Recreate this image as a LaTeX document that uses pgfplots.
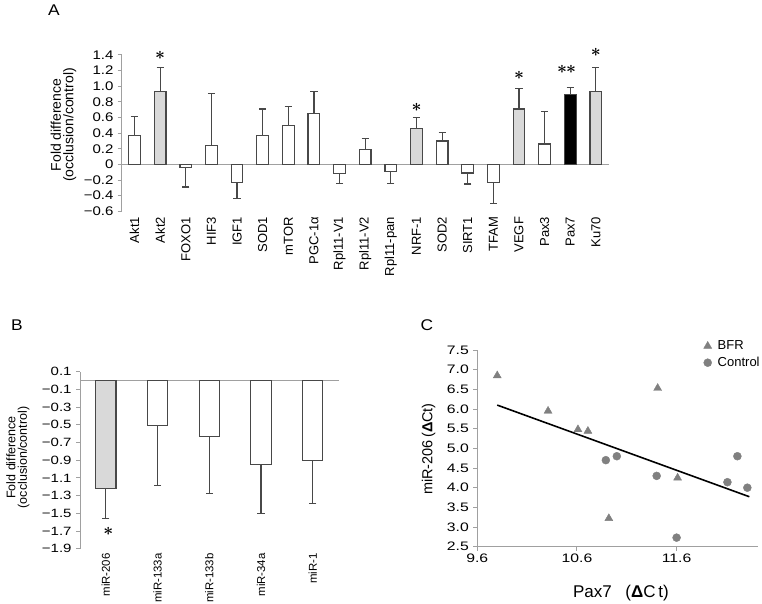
\documentclass[border=0pt]{standalone}
\usepackage{pgfplots}
\pgfplotsset{compat=1.18}
\usepackage{fontspec}
\setmainfont{Liberation Sans}
\definecolor{axisgray}{HTML}{A0A0A0}
\definecolor{bargray}{HTML}{484848}
\definecolor{fillgray}{HTML}{D9D9D9}
\definecolor{ptgray}{HTML}{808080}

\pgfplotsset{
  barbase/.style={ybar, bar shift=0pt, draw=bargray, line width=1.2pt,
    error bars/y explicit,
    error bars/error bar style={draw=bargray, line width=1.2pt},
    error bars/error mark options={rotate=90, draw=bargray, line width=1.2pt, mark size=3.6pt}},
  ticksfont/.style={font=\fontsize{13}{13}\selectfont},
  hticks/.style={font=\fontsize{12.5}{12.5}\selectfont, xscale=1.2},
}
\newcommand{\sig}{{\fontsize{19}{19}\selectfont\boldmath$\ast$}}

\begin{document}
\begin{tikzpicture}
\useasboundingbox (0,0) rectangle (762pt,-604pt);

% ---------------- Panel A ----------------
\node[font=\fontsize{15.5}{15.5}\selectfont, xscale=1.12] at (54pt,-9.7pt) {A};
\node[rotate=90, align=center, font=\fontsize{14}{12.5}\selectfont] at (63.5pt,-125pt) {Fold difference\\(occlusion/control)};
\begin{axis}[
  at={(121.7pt,-55pt)}, anchor=north west,
  scale only axis, width=487pt, height=156.3pt,
  xmin=-0.5, xmax=18.5, ymin=-0.6, ymax=1.4,
  axis lines=left, axis line style={-, draw=axisgray, line width=1pt},
  x axis line style={draw=none},
  xtick={0,...,18},
  xticklabels={Akt1,Akt2,FOXO1,HIF3,IGF1,SOD1,mTOR,PGC-1α,Rpl11-V1,Rpl11-V2,Rpl11-pan,NRF-1,SOD2,SIRT1,TFAM,VEGF,Pax3,Pax7,Ku70},
  x tick label style={rotate=90, anchor=east, ticksfont, inner sep=1.5pt},
  xtick style={draw=none},
  ytick={-0.6,-0.4,-0.2,0,0.2,0.4,0.6,0.8,1.0,1.2,1.4},
  yticklabels={−0.6,−0.4,−0.2,0,0.2,0.4,0.6,0.8,1.0,1.2,1.4},
  y tick label style={hticks},
  ytick style={draw=axisgray, line width=1pt},
  tick align=outside, major tick length=4pt,
  clip=false,
]
\draw[axisgray, line width=1pt] (axis cs:-0.5,0) -- (axis cs:18.5,0);
% white bars, positive (errors up)
\addplot[barbase, fill=white, bar width=11.7pt, error bars/y dir=plus] table[x=x, y=y, y error=e] {
x y e
0 0.37 0.24
3 0.24 0.67
5 0.37 0.34
6 0.50 0.24
7 0.65 0.28
9 0.19 0.14
12 0.30 0.11
16 0.26 0.42
};
% white bars, negative (errors down)
\addplot[barbase, fill=white, bar width=11.7pt, error bars/y dir=minus] table[x=x, y=y, y error=e] {
x y e
2 -0.04 0.25
4 -0.23 0.21
8 -0.12 0.12
10 -0.09 0.15
13 -0.11 0.14
14 -0.23 0.27
};
% grey bars
\addplot[barbase, fill=fillgray, bar width=11.7pt, error bars/y dir=plus] table[x=x, y=y, y error=e] {
x y e
1 0.93 0.31
11 0.46 0.14
15 0.71 0.26
18 0.93 0.31
};
% black bar
\addplot[barbase, fill=black, bar width=11.7pt, error bars/y dir=plus] table[x=x, y=y, y error=e] {
x y e
17 0.89 0.09
};
\node at (axis cs:1,1.40) {\sig};
\node at (axis cs:11,0.726) {\sig};
\node at (axis cs:15,1.136) {\sig};
\node at (axis cs:16.86,1.213) {\sig\hspace{-1pt}\sig};
\node at (axis cs:18,1.436) {\sig};
\end{axis}

% ---------------- Panel B ----------------
\node[font=\fontsize{15.5}{15.5}\selectfont, xscale=1.12] at (17pt,-325pt) {B};
\node[rotate=90, align=center, font=\fontsize{12.5}{11.5}\selectfont] at (18pt,-457.5pt) {Fold difference\\(occlusion/control)};
\begin{axis}[
  at={(80pt,-371.7pt)}, anchor=north west,
  scale only axis, width=258.5pt, height=177pt,
  xmin=-0.5, xmax=4.5, ymin=-1.9, ymax=0.1,
  axis lines=left, axis line style={-, draw=axisgray, line width=1pt},
  x axis line style={draw=none},
  xtick={0,...,4},
  xticklabels={miR-206,miR-133a,miR-133b,miR-34a,miR-1},
  x tick label style={rotate=90, anchor=east, font=\fontsize{11.4}{11.4}\selectfont, inner sep=0.5pt},
  xtick style={draw=none},
  ytick={-1.9,-1.7,-1.5,-1.3,-1.1,-0.9,-0.7,-0.5,-0.3,-0.1,0.1},
  yticklabels={−1.9,−1.7,−1.5,−1.3,−1.1,−0.9,−0.7,−0.5,−0.3,−0.1,0.1},
  y tick label style={font=\fontsize{12}{12}\selectfont, xscale=1.25},
  ytick style={draw=axisgray, line width=1pt},
  tick align=outside, major tick length=4pt,
  clip=false,
]
\draw[axisgray, line width=1pt] (axis cs:-0.5,0) -- (axis cs:4.5,0);
\addplot[barbase, fill=fillgray, bar width=20.3pt, error bars/y dir=minus] table[x=x, y=y, y error=e] {
x y e
0 -1.22 0.34
};
\addplot[barbase, fill=white, bar width=20.3pt, error bars/y dir=minus] table[x=x, y=y, y error=e] {
x y e
1 -0.51 0.68
2 -0.63 0.65
3 -0.95 0.55
4 -0.90 0.49
};
\node at (axis cs:0.05,-1.708) {\sig};
\end{axis}

% ---------------- Panel C ----------------
\node[font=\fontsize{15.5}{15.5}\selectfont, xscale=1.12] at (427pt,-325.3pt) {C};
\node[rotate=90, font=\fontsize{14.5}{14.5}\selectfont] at (428.5pt,-449pt) {miR-206\hspace{0.15em}(\textbf{Δ}Ct)};
\node[font=\fontsize{17}{17}\selectfont] at (621pt,-593pt) {Pax7\hspace{0.8em}(\textbf{Δ}C\,t)};
\begin{axis}[
  at={(477.3pt,-350pt)}, anchor=north west,
  scale only axis, width=281pt, height=196.7pt,
  xmin=9.6, xmax=12.42, ymin=2.5, ymax=7.5,
  axis lines=left, axis line style={-, draw=axisgray, line width=1pt},
  xtick={9.6,10.6,11.6}, xticklabels={9.6,10.6,11.6},
  ytick={2.5,3.0,3.5,4.0,4.5,5.0,5.5,6.0,6.5,7.0,7.5},
  yticklabels={2.5,3.0,3.5,4.0,4.5,5.0,5.5,6.0,6.5,7.0,7.5},
  tick label style={font=\fontsize{12.3}{12.3}\selectfont, xscale=1.28},
  tick style={draw=axisgray, line width=1pt},
  tick align=outside, major tick length=4pt,
  clip=false,
  legend style={at={(axis description cs:0.805,1.058)}, anchor=north west, draw=none, fill=none,
    font=\fontsize{13}{13}\selectfont, inner sep=0pt, row sep=2pt, column sep=4pt},
  legend cell align=left,
  legend image code/.code={\draw[#1] plot coordinates {(0.15cm,0cm)};},
]
\addplot[only marks, mark=triangle*, mark size=4.6pt, color=ptgray] coordinates {
(9.80,6.85) (10.31,5.95) (10.61,5.48) (10.71,5.44) (10.92,3.22) (11.41,6.53) (11.61,4.25)
};
\addlegendentry{BFR}
\addplot[only marks, mark=*, mark size=4pt, color=ptgray] coordinates {
(10.89,4.70) (11.00,4.80) (11.40,4.30) (11.60,2.73) (12.11,4.14) (12.21,4.80) (12.31,4.00)
};
\addlegendentry{Control}
\addplot[black, line width=1.6pt, no marks, forget plot] coordinates {(9.80,6.10) (12.33,3.77)};
\end{axis}
\end{tikzpicture}
\end{document}
